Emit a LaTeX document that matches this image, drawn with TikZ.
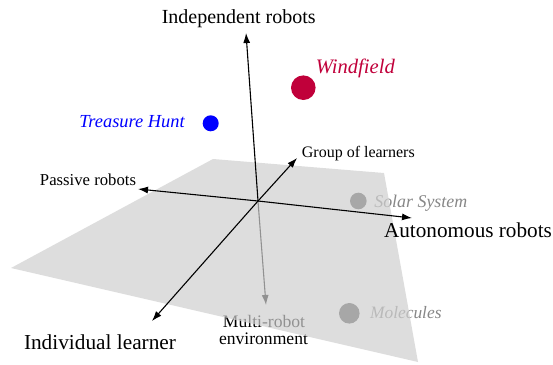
\documentclass[tikz,border=0pt]{standalone}
\usepackage{fontspec}
\setmainfont{Liberation Serif}
\usetikzlibrary{arrows.meta}
\definecolor{wind}{RGB}{192,0,58}
\definecolor{planecol}{gray}{0.81}
\definecolor{underdot}{gray}{0.3}
\definecolor{undertext}{gray}{0.53}
\tikzset{
  axis/.style={line width=1.1pt,-{Latex[length=10pt,width=7pt]}},
  lbl/.style={anchor=base,inner sep=0pt,outer sep=0pt},
  fs/.style={font=\fontsize{#1}{#1}\selectfont},
}
\begin{document}
\begin{tikzpicture}[x=1pt,y=-1pt]
\useasboundingbox (0,0) rectangle (553,364);
% coordinates
\coordinate (O) at (258,201);
\coordinate (up) at (246,33);
\coordinate (down) at (266,305);
\coordinate (pass) at (138,189);
\coordinate (auto) at (412,218);
\coordinate (grp) at (297,158);
\coordinate (ind) at (152,321);
% below-plane elements
\fill[underdot] (358.3,201) circle (8.3) coordinate (solar);
\fill[underdot] (349.3,313.3) circle (10.3) coordinate (molec);
\node[lbl,fs=17.9,text=undertext] (solarL) at (420.8,207.7) {\itshape Solar System};
\node[lbl,fs=17.4,text=undertext] (molecL) at (405.8,318.3) {\itshape Molecules};
\draw[axis] (O) -- (down);
\node[lbl,fs=17.6] (multi) at (264,327.3) {Multi-robot};
\node[lbl,fs=17.6] (env) at (263.5,344.3) {environment};
% plane
\fill[planecol,fill opacity=0.7] (213,159) -- (384,173) -- (418,362) -- (11,268) -- cycle;
% axes on / above plane
\draw[axis] (O) -- (pass);
\draw[axis] (O) -- (auto);
\draw[axis] (O) -- (grp);
\draw[axis] (O) -- (ind);
\draw[axis] (O) -- (up);
% labels
\node[lbl,fs=20] (indepL) at (238.7,23.3) {Independent robots};
\node[lbl,fs=21.2] (autoL) at (468,237.3) {Autonomous robots};
\node[lbl,fs=21.3] (indL) at (100,349) {Individual learner};
\node[lbl,fs=16.7] (passL) at (88,185) {Passive robots};
\node[lbl,fs=16] (grpL) at (358.3,157.3) {Group of learners};
% coloured dots
\fill[blue] (210.7,123.3) circle (8) coordinate (treas);
\node[lbl,fs=18.4,text=blue] (treasL) at (132,127.7) {\itshape Treasure Hunt};
\fill[wind] (303.3,87.7) circle (12.3) coordinate (windD);
\node[lbl,fs=20.6,text=wind] (windL) at (355.3,73.3) {\itshape Windfield};
\end{tikzpicture}
\end{document}
